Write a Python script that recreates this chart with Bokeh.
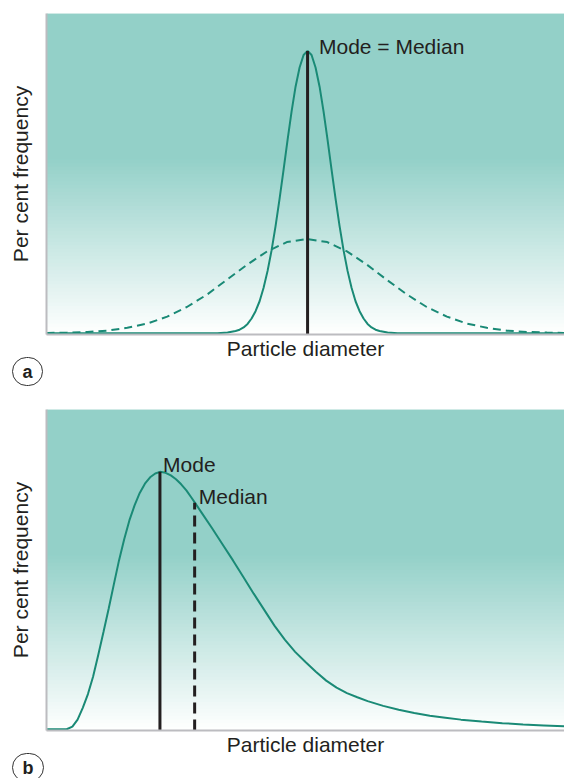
from bokeh.plotting import figure
from bokeh.layouts import column
from bokeh.models import Range1d, FixedTicker, Label, Title, GlobalInlineStyleSheet
from bokeh.embed import file_html
from bokeh.resources import INLINE

# ---------------- data ----------------
# Panel a: narrow (solid) distribution
a_narrow_x = [0, 33.0, 34.96, 36.5, 37.28, 38.05, 38.82, 39.59, 40.36, 41.14, 41.91, 42.68,
              43.45, 44.22, 45.0, 45.77, 46.54, 47.31, 48.08, 48.86, 49.63, 50.4,
              51.17, 51.94, 52.72, 53.49, 54.26, 55.03, 55.8, 56.58, 57.35, 58.12, 58.89,
              59.66, 60.44, 61.21, 61.98, 62.75, 63.52, 64.3, 65.84, 67.8, 100]
a_narrow_y = [0, 0.0, 0.2, 0.7, 1.1, 1.8, 2.9, 4.6, 6.9, 10.0, 14.2, 19.5,
              25.9, 33.5, 42.1, 51.2, 60.5, 69.3, 77.1, 83.1, 87.0, 88.3,
              87.0, 83.1, 77.1, 69.3, 60.5, 51.2, 42.1, 33.5, 25.9, 19.5, 14.2,
              10.0, 6.9, 4.6, 2.9, 1.8, 1.1, 0.7, 0.2, 0.0, 0]
# Panel a: wide (dashed) distribution
a_wide_x = [0, 0.1, 4.0, 7.9, 11.7, 15.6, 19.4, 23.3, 27.1, 31.0, 34.8, 38.7, 42.6, 46.4,
            50.3, 54.2, 58.0, 61.9, 65.7, 69.6, 73.4, 77.3, 81.2, 85.0, 88.9, 92.7, 96.6, 100]
a_wide_y = [0.05, 0.1, 0.2, 0.4, 0.8, 1.7, 3.0, 5.2, 8.2, 12.1, 16.7, 21.4, 25.6, 28.5,
            29.5, 28.5, 25.6, 21.4, 16.7, 12.1, 8.2, 5.2, 3.0, 1.7, 0.8, 0.4, 0.2, 0.1]
a_mode_x, a_mode_y = 50.4, 88.3

# Panel b: skewed distribution
b_x = [0, 3.9, 5.0, 6.0, 7.0, 8.0, 9.0, 10.0, 11.0, 12.0, 13.0, 14.0, 15.0, 16.0, 17.0,
       18.0, 19.0, 20.0, 21.0, 21.9, 23.0, 24.0, 25.0, 26.0, 27.0, 28.0, 29.0, 30.0,
       32.0, 34.0, 36.0, 38.0, 40.0, 42.0, 44.0, 46.0, 48.0, 50.0, 52.0, 54.0, 56.0,
       58.0, 60.0, 62.0, 65.0, 68.0, 71.0, 74.0, 77.0, 80.0, 84.0, 88.0, 92.0, 96.0, 100]
b_y = [0, 0, 0.8, 3.0, 6.7, 11.0, 16.5, 23.3, 30.4, 37.7, 45.3, 52.8, 59.4, 65.3, 70.0,
       73.9, 76.8, 78.8, 80.0, 80.5, 80.2, 79.4, 78.2, 76.6, 74.7, 72.4, 70.0, 67.6,
       62.8, 57.8, 52.8, 47.6, 42.4, 37.4, 32.4, 28.0, 24.2, 21.0, 18.0, 15.2, 13.0,
       11.3, 10.0, 8.8, 7.3, 6.1, 5.1, 4.2, 3.6, 3.0, 2.4, 1.9, 1.5, 1.2, 0.9]
b_mode_x, b_mode_y = 21.9, 80.5
b_median_x, b_median_y = 28.6, 70.8

panel_letters = ["a", "b"]
x_title = "Particle diameter"
y_title = "Per cent frequency"

# ---------------- style ----------------
FONT = "Liberation Sans"
TXT = "#231f20"
CURVE = "#1a8a76"
AXIS = "#bcbcc0"
TEAL = (147, 208, 200)
Y0 = -0.4


def base_figure(height, top, bottom):
    p = figure(width=564, height=height, output_backend="svg", toolbar_location=None,
               x_range=Range1d(0, 100), y_range=Range1d(Y0, 100),
               min_border_left=46, min_border_right=0,
               min_border_top=top, min_border_bottom=bottom)
    p.outline_line_color = None
    p.xgrid.visible = False
    p.ygrid.visible = False
    for ax in (p.xaxis[0], p.yaxis[0]):
        ax.ticker = FixedTicker(ticks=[])
        ax.axis_line_color = AXIS
        ax.axis_line_width = 2
        ax.major_tick_line_color = None
        ax.minor_tick_line_color = None
        ax.major_label_text_font_size = "0px"
        ax.major_label_standoff = 0
        ax.axis_label_text_font = FONT
        ax.axis_label_text_font_size = "21px"
        ax.axis_label_text_font_style = "normal"
        ax.axis_label_text_color = TXT
    p.xaxis.axis_label = x_title
    p.yaxis.axis_label = y_title
    p.xaxis.axis_label_standoff = 2
    p.yaxis.axis_label_standoff = 15

    # gradient background (teal at top fading to white at bottom)
    n = 90
    h = (100.0 - Y0) / n
    bots, tops, cols = [], [], []
    for i in range(n):
        f = (i + 0.5) / n
        s = min(1.0, f / 0.55)
        c = tuple(int(round(255 + (t - 255) * s)) for t in TEAL)
        bots.append(Y0 + i * h)
        tops.append(min(100.0, Y0 + (i + 2) * h))
        cols.append("#%02x%02x%02x" % c)
    p.quad(left=0, right=100, bottom=bots, top=tops, fill_color=cols, line_color=None)
    return p


def letter(p, txt):
    p.add_layout(Title(text=txt, align="left", offset=-34, standoff=-14,
                       text_font=FONT, text_font_size="18px", text_font_style="bold",
                       text_color=TXT, border_line_color="#333333", border_line_width=1,
                       padding=(10, 4), border_radius=15), "below")


def text_label(p, x, y, txt):
    p.add_layout(Label(x=x, y=y, text=txt, text_font=FONT, text_font_size="21px",
                       text_color=TXT, text_baseline="alphabetic", text_align="left"))


# ---------------- panel a ----------------
pa = base_figure(395, 13, 61)
pa.line(a_wide_x, a_wide_y, line_color=CURVE, line_width=2, line_dash="8 5")
pa.line(a_narrow_x, a_narrow_y, line_color=CURVE, line_width=2)
pa.segment(x0=[a_mode_x], y0=[Y0], x1=[a_mode_x], y1=[a_mode_y], line_color=TXT,
           line_width=3)
text_label(pa, 52.6, 89.7, "Mode = Median")
letter(pa, panel_letters[0])

# ---------------- panel b ----------------
pb = base_figure(396, 14, 61)
pb.line(b_x, b_y, line_color=CURVE, line_width=2)
pb.segment(x0=[b_mode_x], y0=[Y0], x1=[b_mode_x], y1=[b_mode_y], line_color=TXT,
           line_width=3)
pb.segment(x0=[b_median_x], y0=[Y0], x1=[b_median_x], y1=[b_median_y], line_color=TXT,
           line_width=3, line_dash="11 6")
text_label(pb, 22.5, 82.9, "Mode")
text_label(pb, 29.4, 72.9, "Median")
letter(pb, panel_letters[1])

layout = column(pa, pb)
layout.stylesheets = [GlobalInlineStyleSheet(css="html, body { overflow: hidden; margin: 0; }")]
open("out.html", "w").write(file_html(layout, INLINE))
